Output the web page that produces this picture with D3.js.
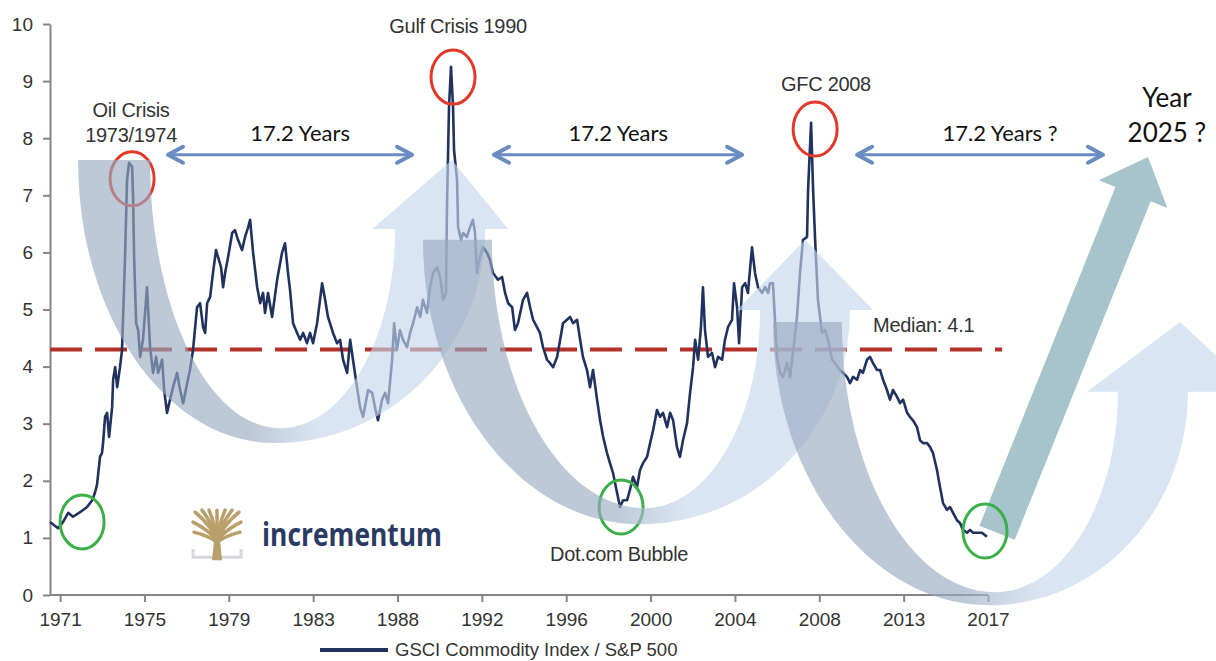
<!DOCTYPE html>
<html>
<head>
<meta charset="utf-8">
<script src="https://cdn.jsdelivr.net/npm/d3@7"></script>
<style>
  html, body { margin: 0; padding: 0; background: #fff; }
  svg { display: block; }
</style>
</head>
<body>
<svg id="chart"></svg>
<script>
const WIDTH = 1216;
const HEIGHT = 661;

// --- Data: [decimal year, GSCI / S&P 500 ratio] ---
const ratioSeries = [
  [1970.50,1.28],[1970.90,1.17],[1971.15,1.28],[1971.40,1.44],[1971.64,1.37],[1971.99,1.45],[1972.34,1.54],[1972.59,1.66],
  [1972.73,1.79],[1972.83,1.93],[1972.98,2.42],[1973.08,2.49],[1973.13,2.66],[1973.23,3.12],[1973.33,3.19],[1973.43,2.77],
  [1973.58,3.29],[1973.63,3.77],[1973.73,3.99],[1973.83,3.64],[1973.97,3.99],[1974.07,4.29],[1974.22,5.92],[1974.32,7.27],
  [1974.42,7.57],[1974.57,7.50],[1974.62,6.97],[1974.67,5.92],[1974.77,4.76],[1974.87,4.64],[1974.97,4.17],[1975.11,4.47],
  [1975.31,5.39],[1975.36,5.04],[1975.46,4.34],[1975.61,3.89],[1975.76,4.17],[1975.86,3.89],[1976.06,4.12],[1976.16,3.59],
  [1976.30,3.19],[1976.45,3.42],[1976.60,3.64],[1976.80,3.89],[1976.95,3.59],[1977.10,3.36],[1977.30,3.71],[1977.44,3.94],
  [1977.59,4.29],[1977.79,5.04],[1977.94,5.11],[1978.09,4.69],[1978.19,4.59],[1978.29,5.11],[1978.44,5.22],[1978.58,5.64],
  [1978.73,6.04],[1978.83,5.92],[1978.98,5.74],[1979.08,5.39],[1979.18,5.64],[1979.33,5.92],[1979.53,6.34],[1979.67,6.39],
  [1979.82,6.22],[1980.02,6.04],[1980.17,6.27],[1980.32,6.44],[1980.42,6.57],[1980.57,5.99],[1980.77,5.39],[1980.92,5.11],
  [1981.06,5.29],[1981.16,4.94],[1981.31,5.29],[1981.51,4.87],[1981.76,5.52],[1982.00,5.99],[1982.15,6.16],[1982.30,5.64],
  [1982.40,5.34],[1982.55,4.76],[1982.75,4.59],[1982.90,4.47],[1983.05,4.59],[1983.24,4.41],[1983.39,4.59],[1983.54,4.41],
  [1983.74,4.76],[1983.99,5.46],[1984.14,5.17],[1984.28,4.87],[1984.38,4.76],[1984.53,4.59],[1984.73,4.41],[1984.88,4.47],
  [1985.03,4.12],[1985.23,3.89],[1985.38,4.47],[1985.52,4.12],[1985.72,3.64],[1985.87,3.29],[1986.02,3.12],[1986.27,3.59],
  [1986.47,3.54],[1986.61,3.29],[1986.76,3.06],[1986.96,3.42],[1987.11,3.54],[1987.26,3.36],[1987.46,4.12],[1987.56,4.76],
  [1987.70,4.29],[1987.85,4.64],[1988.00,4.47],[1988.20,4.34],[1988.35,4.59],[1988.50,4.76],[1988.70,5.04],[1988.85,4.87],
  [1988.99,5.17],[1989.19,4.94],[1989.34,5.39],[1989.49,5.64],[1989.69,5.74],[1989.84,5.57],[1989.99,5.17],[1990.13,5.29],
  [1990.18,6.80],[1990.28,8.55],[1990.38,9.25],[1990.48,8.55],[1990.53,7.79],[1990.68,7.27],[1990.73,6.44],[1990.88,6.22],
  [1990.98,6.34],[1991.17,6.27],[1991.32,6.44],[1991.47,6.57],[1991.57,6.34],[1991.67,5.64],[1991.82,5.92],[1991.97,6.09],
  [1992.17,5.99],[1992.31,5.87],[1992.46,5.64],[1992.71,5.52],[1992.91,5.57],[1993.06,5.29],[1993.21,5.11],[1993.41,5.04],
  [1993.55,4.64],[1993.70,4.76],[1993.95,5.17],[1994.15,5.29],[1994.30,5.04],[1994.45,4.82],[1994.64,4.69],[1994.79,4.59],
  [1994.94,4.34],[1995.14,4.12],[1995.29,4.06],[1995.44,3.99],[1995.64,4.17],[1995.79,4.47],[1995.93,4.76],[1996.13,4.82],
  [1996.28,4.87],[1996.43,4.76],[1996.63,4.82],[1996.78,4.47],[1996.92,4.17],[1997.12,3.94],[1997.27,3.64],[1997.42,3.94],
  [1997.62,3.42],[1997.77,3.06],[1997.92,2.77],[1998.11,2.49],[1998.26,2.31],[1998.41,2.14],[1998.61,1.79],[1998.76,1.54],
  [1998.91,1.66],[1999.11,1.66],[1999.25,1.84],[1999.40,2.07],[1999.60,1.89],[1999.75,2.19],[1999.90,2.31],[2000.10,2.42],
  [2000.25,2.66],[2000.40,2.89],[2000.59,3.24],[2000.74,3.12],[2000.89,3.19],[2001.09,2.94],[2001.24,3.19],[2001.39,3.06],
  [2001.58,2.59],[2001.73,2.42],[2001.88,2.71],[2002.08,3.01],[2002.23,3.54],[2002.38,3.99],[2002.48,4.47],[2002.63,4.12],
  [2002.77,4.69],[2002.87,5.39],[2002.97,4.64],[2003.12,4.17],[2003.32,4.24],[2003.47,3.99],[2003.62,4.17],[2003.82,4.12],
  [2003.96,4.47],[2004.11,4.69],[2004.31,4.82],[2004.41,5.46],[2004.56,5.04],[2004.66,4.41],[2004.81,5.39],[2004.96,5.46],
  [2005.10,5.29],[2005.30,6.09],[2005.45,5.64],[2005.60,5.39],[2005.80,5.29],[2005.95,5.39],[2006.10,5.29],[2006.19,5.46],
  [2006.34,5.46],[2006.54,4.17],[2006.69,3.89],[2006.84,3.82],[2007.04,4.06],[2007.19,3.82],[2007.33,4.24],[2007.53,4.87],
  [2007.68,5.64],[2007.83,6.22],[2008.03,6.27],[2008.08,7.09],[2008.23,8.27],[2008.33,7.09],[2008.43,6.22],[2008.57,5.17],
  [2008.77,4.59],[2008.92,4.64],[2009.07,4.47],[2009.27,4.12],[2009.42,4.06],[2009.66,3.94],[2009.81,3.89],[2010.01,3.82],
  [2010.16,3.71],[2010.31,3.82],[2010.51,3.77],[2010.66,3.94],[2010.80,3.89],[2011.00,4.12],[2011.15,4.17],[2011.30,4.06],
  [2011.50,3.94],[2011.65,3.94],[2011.80,3.77],[2011.99,3.59],[2012.14,3.42],[2012.29,3.59],[2012.49,3.47],[2012.64,3.36],
  [2012.79,3.42],[2012.99,3.19],[2013.13,3.12],[2013.28,3.06],[2013.48,2.94],[2013.63,2.71],[2013.78,2.66],[2013.98,2.66],
  [2014.13,2.59],[2014.27,2.49],[2014.47,2.19],[2014.62,1.89],[2014.77,1.61],[2014.97,1.49],[2015.12,1.54],[2015.27,1.44],
  [2015.46,1.31],[2015.61,1.26],[2015.76,1.14],[2015.96,1.09],[2016.11,1.14],[2016.26,1.09],[2016.46,1.09],[2016.70,1.09],
  [2016.95,1.02]
];

const seriesName = "GSCI Commodity Index / S&P 500";
const xTickLabels = ["1971","1975","1979","1983","1988","1992","1996","2000","2004","2008","2013","2017"];
const yTickValues = [0, 1, 2, 3, 4, 5, 6, 7, 8, 9, 10];

// median line as drawn, and its label
const medianLevel = 4.3;
const medianLabel = "Median: 4.1";

// crisis peaks (red) and troughs (green): [year, value]
const peakCircles = [[1974.57, 7.29], [1990.48, 9.07], [2008.43, 8.16]];
const troughCircles = [[1972.09, 1.28], [1998.81, 1.54], [2016.85, 1.12]];

// text notes: [year, value, text, anchor]
const crisisNotes = [
  [1974.52, 8.37, "Oil Crisis", "middle"],
  [1974.52, 7.93, "1973/1974", "middle"],
  [1990.73, 9.84, "Gulf Crisis 1990", "middle"],
  [2008.97, 8.83, "GFC 2008", "middle"],
  [1995.29, 0.60, "Dot.com Bubble", "start"],
  [2011.30, 4.61, medianLabel, "start"]
];

// "17.2 Years" spans: from year, to year, label centre year
const cycleSpans = [
  [1976.35, 1988.45, 1982.90, "17.2 Years"],
  [1992.51, 2004.81, 1998.67, "17.2 Years"],
  [2010.51, 2022.70, 2017.60, "17.2 Years ?"]
];
const spanLevel = 7.71;
const spanLabelLevel = 7.95;

const forecastNote = [[2025.87, 8.55, "Year"], [2025.87, 7.93, "2025 ?"]];

// big curved cycle arrows, in data units
const cycleArrows = [
  { topV: 7.62, outerTopX: 1971.89, innerTopX: 1975.46, outerBottom: [1981.66, 2.66], innerBottom: [1981.91, 2.92],
    headBaseV: 6.41, shaftInnerX: 1987.61, shaftOuterX: 1992.07, headLeftX: 1986.47, headRightX: 1993.21, tip: [1990.43, 7.62] },
  { topV: 6.22, outerTopX: 1988.99, innerTopX: 1992.41, outerBottom: [1999.75, 1.24], innerBottom: [2000.00, 1.52],
    headBaseV: 4.99, shaftInnerX: 2005.70, shaftOuterX: 2010.16, headLeftX: 2004.56, headRightX: 2011.30, tip: [2007.93, 6.22] },
  { topV: 4.78, outerTopX: 2006.34, innerTopX: 2009.76, outerBottom: [2017.10, -0.18], innerBottom: [2017.35, 0.05],
    headBaseV: 3.56, shaftInnerX: 2023.44, shaftOuterX: 2026.91, headLeftX: 2021.91, headRightX: 2030.24, tip: [2026.52, 4.78] }
];

// straight forecast arrow: base and tip
const forecastArrow = { base: [2017.45, 1.09], tip: [2024.93, 7.67] };

// --- Scales ---
const x = d3.scaleLinear()
    .domain([ratioSeries[0][0], +xTickLabels[xTickLabels.length - 1]])
    .range([50, 988]);
const y = d3.scaleLinear().domain([0, 10]).range([595, 24]);
const xTicks = d3.scalePoint()
    .domain(xTickLabels)
    .range([x(+xTickLabels[0]), x(+xTickLabels[xTickLabels.length - 1])]);

const svg = d3.select("#chart")
    .attr("width", WIDTH)
    .attr("height", HEIGHT)
    .attr("viewBox", [0, 0, WIDTH, HEIGHT]);

const ARIAL = "'Liberation Sans', Arial, sans-serif";
const CALIBRI = "Lato, 'Open Sans', sans-serif";

// --- Axes ---
const axisG = svg.append("g");

axisG.append("g")
    .attr("transform", `translate(${x.range()[0]},0)`)
    .call(d3.axisLeft(y).tickValues(yTickValues).tickSize(7).tickSizeOuter(0).tickPadding(10));

const xAxis = axisG.append("g")
    .attr("transform", `translate(0,${y(0)})`)
    .call(d3.axisBottom(xTicks).tickSize(7).tickSizeOuter(0).tickPadding(11));
xAxis.select(".domain").remove();
xAxis.append("line")
    .attr("x1", x.range()[0]).attr("x2", x.range()[1])
    .attr("stroke", "#858585").attr("stroke-width", 2);

axisG.selectAll(".domain").attr("stroke", "#858585").attr("stroke-width", 2);
axisG.selectAll(".tick line").attr("stroke", "#858585").attr("stroke-width", 2);
axisG.selectAll(".tick text")
    .attr("font-family", ARIAL)
    .attr("font-size", 19)
    .attr("fill", "#333");

// --- Forecast arrow (straight, teal) ---
function straightArrow(a, shaftW, headW, headL) {
  const b = [x(a.base[0]), y(a.base[1])];
  const t = [x(a.tip[0]), y(a.tip[1])];
  const len = Math.hypot(t[0] - b[0], t[1] - b[1]);
  const d = [(t[0] - b[0]) / len, (t[1] - b[1]) / len];
  const n = [-d[1], d[0]];
  const h = [t[0] - d[0] * headL, t[1] - d[1] * headL];
  const pt = (p, s) => [p[0] + n[0] * s, p[1] + n[1] * s];
  return [pt(b, shaftW / 2), pt(h, shaftW / 2), pt(h, headW / 2), t, pt(h, -headW / 2), pt(h, -shaftW / 2), pt(b, -shaftW / 2)];
}

svg.append("polygon")
    .attr("points", straightArrow(forecastArrow, 38, 74, 40).map(p => p.join(",")).join(" "))
    .attr("fill", "#a7c3cb");

// --- Median line ---
svg.append("line")
    .attr("x1", x.range()[0]).attr("x2", x(2017.7))
    .attr("y1", y(medianLevel)).attr("y2", y(medianLevel))
    .attr("stroke", "#b4312b")
    .attr("stroke-width", 4)
    .attr("stroke-dasharray", "32,13");

// --- Series line ---
const line = d3.line()
    .x(d => x(d[0]))
    .y(d => y(d[1]));

svg.append("path")
    .datum(ratioSeries)
    .attr("d", line)
    .attr("fill", "none")
    .attr("stroke", "#22325f")
    .attr("stroke-width", 2.6)
    .attr("stroke-linejoin", "round");

// --- Circles ---
svg.append("g").selectAll("ellipse")
    .data(peakCircles)
    .join("ellipse")
    .attr("cx", d => x(d[0])).attr("cy", d => y(d[1]))
    .attr("rx", 22).attr("ry", 27)
    .attr("fill", "none").attr("stroke", "#e2392b").attr("stroke-width", 3);

svg.append("g").selectAll("ellipse")
    .data(troughCircles)
    .join("ellipse")
    .attr("cx", d => x(d[0])).attr("cy", d => y(d[1]))
    .attr("rx", 22).attr("ry", 27)
    .attr("fill", "none").attr("stroke", "#3cae4a").attr("stroke-width", 3);

// --- Curved cycle arrows ---
const defs = svg.append("defs");

function uArrowPath(a) {
  const k = 0.5523;
  const oT = [x(a.outerTopX), y(a.topV)];
  const iT = [x(a.innerTopX), y(a.topV)];
  const oB = [x(a.outerBottom[0]), y(a.outerBottom[1])];
  const iB = [x(a.innerBottom[0]), y(a.innerBottom[1])];
  const hy = y(a.headBaseV);
  const sO = [x(a.shaftOuterX), hy];
  const sI = [x(a.shaftInnerX), hy];
  const hL = [x(a.headLeftX), hy];
  const hR = [x(a.headRightX), hy];
  const tip = [x(a.tip[0]), y(a.tip[1])];

  const p = d3.path();
  p.moveTo(oT[0], oT[1]);
  p.bezierCurveTo(oT[0], oT[1] + k * (oB[1] - oT[1]), oB[0] - k * (oB[0] - oT[0]), oB[1], oB[0], oB[1]);
  p.bezierCurveTo(oB[0] + k * (sO[0] - oB[0]), oB[1], sO[0], sO[1] + k * (oB[1] - sO[1]), sO[0], sO[1]);
  p.lineTo(hR[0], hR[1]);
  p.lineTo(tip[0], tip[1]);
  p.lineTo(hL[0], hL[1]);
  p.lineTo(sI[0], sI[1]);
  p.bezierCurveTo(sI[0], sI[1] + k * (iB[1] - sI[1]), iB[0] + k * (sI[0] - iB[0]), iB[1], iB[0], iB[1]);
  p.bezierCurveTo(iB[0] - k * (iB[0] - iT[0]), iB[1], iT[0], iT[1] + k * (iB[1] - iT[1]), iT[0], iT[1]);
  p.closePath();
  return p.toString();
}

cycleArrows.forEach((a, i) => {
  const x1 = x(a.outerTopX), x2 = x(a.headRightX);
  const split = (x(a.outerBottom[0]) - x1) / (x2 - x1);
  const grad = defs.append("linearGradient")
      .attr("id", `ugrad${i}`)
      .attr("gradientUnits", "userSpaceOnUse")
      .attr("x1", x1).attr("x2", x2).attr("y1", 0).attr("y2", 0);
  grad.append("stop").attr("offset", 0).attr("stop-color", "#98aac1");
  grad.append("stop").attr("offset", Math.max(0, split - 0.06)).attr("stop-color", "#98aac1");
  grad.append("stop").attr("offset", Math.min(1, split + 0.1)).attr("stop-color", "#c5d6ec");
  grad.append("stop").attr("offset", 1).attr("stop-color", "#c5d6ec");
});

svg.append("g").selectAll("path")
    .data(cycleArrows)
    .join("path")
    .attr("d", uArrowPath)
    .attr("fill", (d, i) => `url(#ugrad${i})`)
    .attr("fill-opacity", 0.64);

// --- 17.2 year spans ---
const spanG = svg.append("g")
    .attr("stroke", "#6a8cc1")
    .attr("fill", "none")
    .attr("stroke-linecap", "round")
    .attr("stroke-linejoin", "round");

cycleSpans.forEach(s => {
  const xl = x(s[0]), xr = x(s[1]), yy = y(spanLevel);
  spanG.append("line")
      .attr("x1", xl + 2).attr("x2", xr - 2).attr("y1", yy).attr("y2", yy)
      .attr("stroke-width", 3);
  spanG.append("path")
      .attr("d", `M${xl + 15},${yy - 8}L${xl},${yy}L${xl + 15},${yy + 8}`)
      .attr("stroke-width", 4);
  spanG.append("path")
      .attr("d", `M${xr - 15},${yy - 8}L${xr},${yy}L${xr - 15},${yy + 8}`)
      .attr("stroke-width", 4);
});

svg.append("g").selectAll("text")
    .data(cycleSpans)
    .join("text")
    .attr("x", d => x(d[2]))
    .attr("y", y(spanLabelLevel))
    .attr("text-anchor", "middle")
    .attr("font-family", CALIBRI)
    .attr("font-size", 22)
    .attr("fill", "#111")
    .text(d => d[3]);

svg.append("g").selectAll("text")
    .data(forecastNote)
    .join("text")
    .attr("x", d => x(d[0]))
    .attr("y", d => y(d[1]))
    .attr("text-anchor", "middle")
    .attr("font-family", CALIBRI)
    .attr("font-size", 26)
    .attr("fill", "#111")
    .text(d => d[2]);

// --- Crisis labels ---
svg.append("g").selectAll("text")
    .data(crisisNotes)
    .join("text")
    .attr("x", d => x(d[0]))
    .attr("y", d => y(d[1]))
    .attr("text-anchor", d => d[3])
    .attr("font-family", ARIAL)
    .attr("font-size", 20)
    .attr("fill", "#333")
    .attr("letter-spacing", -0.3)
    .text(d => d[2]);

// --- incrementum logo ---
const logo = svg.append("g")
    .attr("transform", `translate(${x(1977.59)},${y(0.61)})`);

logo.append("path")
    .attr("d", "M0,-11V-3H48V-11")
    .attr("fill", "none").attr("stroke", "#d5d7dd").attr("stroke-width", 3);

const crownTips = [[2, -48], [9, -50], [16, -50], [24, -50], [32, -50], [39, -50], [46, -48], [0, -38], [48, -38], [1, -28], [47, -28]];
logo.append("g").selectAll("path")
    .data(crownTips)
    .join("path")
    .attr("d", d => `M24,-17Q${24 + (d[0] - 24) * 0.15},${(d[1] - 17) / 2} ${d[0]},${d[1]}`)
    .attr("fill", "none")
    .attr("stroke", "#b9a06b")
    .attr("stroke-width", 3.5)
    .attr("stroke-linecap", "round");

logo.append("polygon")
    .attr("points", "19,0 29,0 27,-20 21,-20")
    .attr("fill", "#b9a06b");

logo.append("text")
    .attr("x", 69).attr("y", -14)
    .attr("font-family", "'Open Sans', sans-serif")
    .attr("font-weight", 700)
    .attr("font-size", 33)
    .attr("fill", "#2b3a64")
    .attr("textLength", 180)
    .attr("lengthAdjust", "spacingAndGlyphs")
    .text("incrementum");

// --- Legend ---
const legend = svg.append("g").attr("transform", "translate(320,650)");
legend.append("line")
    .attr("x1", 0).attr("x2", 68)
    .attr("stroke", "#22325f").attr("stroke-width", 4);
legend.append("text")
    .attr("x", 75).attr("y", 6)
    .attr("font-family", ARIAL)
    .attr("font-size", 18.5)
    .attr("fill", "#333")
    .text(seriesName);
</script>
</body>
</html>
